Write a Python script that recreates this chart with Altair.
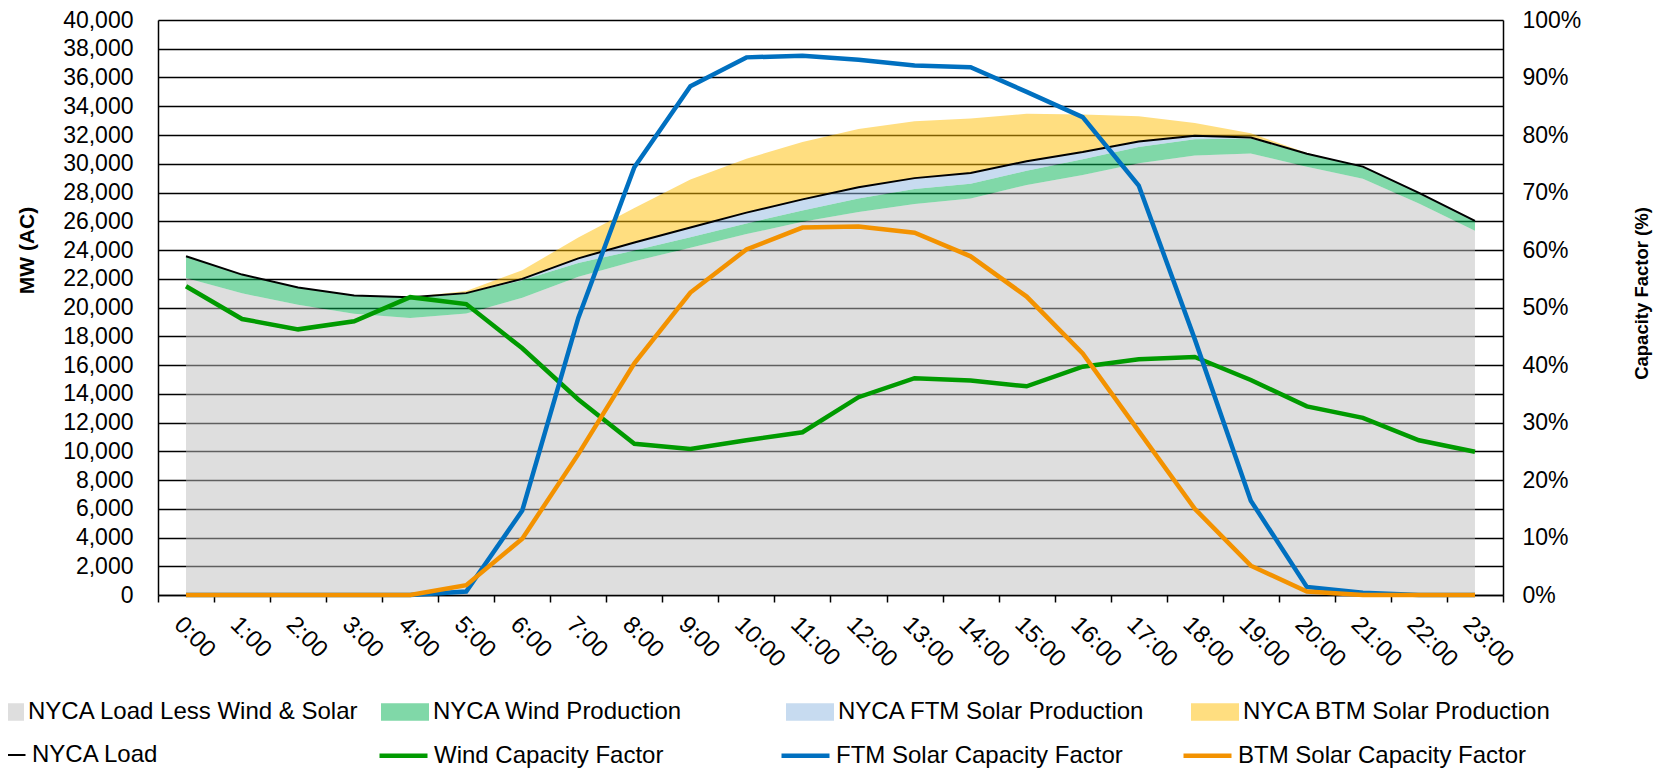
import altair as alt
import pandas as pd

hours = ["0:00", "1:00", "2:00", "3:00", "4:00", "5:00", "6:00", "7:00", "8:00", "9:00",
         "10:00", "11:00", "12:00", "13:00", "14:00", "15:00", "16:00", "17:00", "18:00",
         "19:00", "20:00", "21:00", "22:00", "23:00"]

# MW (AC)
load_less = [22060, 20990, 20190, 19560, 19270, 19590, 20670, 22140, 23220, 24160, 25110, 25960,
             26640, 27200, 27580, 28520, 29210, 30040, 30570, 30720, 29790, 28950, 27240, 25340]
wind_mw = [1500, 1300, 1200, 1280, 1450, 1400, 1220, 950, 750, 720, 740, 780,
           950, 1040, 1030, 1000, 1100, 1130, 1140, 1030, 900, 850, 740, 680]
ftm_mw = [0, 0, 0, 0, 0, 10, 100, 330, 550, 680, 750, 780,
          780, 760, 750, 650, 500, 380, 230, 80, 10, 0, 0, 0]
btm_mw = [0, 0, 0, 0, 0, 150, 600, 1450, 2400, 3350, 3750, 4000,
          4050, 3950, 3780, 3300, 2620, 1750, 900, 300, 40, 0, 0, 0]
nyca_load = [23560, 22290, 21390, 20840, 20720, 21000, 21990, 23420, 24520, 25560, 26600, 27520,
             28370, 29000, 29360, 30170, 30810, 31550, 31940, 31830, 30700, 29800, 27980, 26020]

# Capacity factor (%)
wind_cf = [53.7, 48.0, 46.2, 47.6, 51.8, 50.6, 42.9, 34.0, 26.3, 25.4, 26.9, 28.3,
           34.4, 37.7, 37.3, 36.3, 39.7, 41.0, 41.4, 37.4, 32.8, 30.8, 26.9, 24.9]
ftm_cf = [0, 0, 0, 0, 0, 0.6, 14.7, 48.2, 74.4, 88.5, 93.5, 93.8,
          93.1, 92.1, 91.8, 87.5, 83.1, 71.2, 44.5, 16.4, 1.4, 0.4, 0, 0]
btm_cf = [0, 0, 0, 0, 0, 1.7, 9.8, 24.5, 40.3, 52.6, 60.1, 63.9,
          64.1, 63.0, 58.9, 51.9, 42.0, 28.5, 15.0, 5.1, 0.6, 0, 0, 0]

area_names = ["NYCA Load Less Wind & Solar", "NYCA Wind Production",
              "NYCA FTM Solar Production", "NYCA BTM Solar Production"]
area_colors = ["#bdbdbd", "#02b152", "#8fb7e1", "#ffbd01"]
line_names = ["NYCA Load", "Wind Capacity Factor", "FTM Solar Capacity Factor",
              "BTM Solar Capacity Factor"]
line_colors = ["#000000", "#009a00", "#0070c0", "#f39200"]
line_widths = [2, 4.5, 4.5, 4.5]

mw_ticks = list(range(0, 40001, 2000))
cf_ticks = list(range(0, 101, 10))

area_rows = []
for i, h in enumerate(hours):
    for k, vals in enumerate([load_less, wind_mw, ftm_mw, btm_mw]):
        area_rows.append({"hour": h, "series": area_names[k], "mw": vals[i], "ord": k})
area_df = pd.DataFrame(area_rows)

load_df = pd.DataFrame({"hour": hours, "series": "NYCA Load", "mw": nyca_load})

cf_rows = []
for i, h in enumerate(hours):
    for k, vals in enumerate([wind_cf, ftm_cf, btm_cf]):
        cf_rows.append({"hour": h, "series": line_names[k + 1], "cf": vals[i]})
cf_df = pd.DataFrame(cf_rows)

FONT = "Liberation Sans"

x_enc = alt.X(
    "hour:O", sort=hours, bandPosition=0.5,
    scale=alt.Scale(type="band", domain=hours, paddingInner=0, paddingOuter=0),
    axis=alt.Axis(title=None, labelAngle=45, labelAlign="left", labelBaseline="top",
                  tickBand="extent", ticks=True, tickSize=7, tickColor="black",
                  tickWidth=1.5, labelPadding=10, domainColor="black", domainWidth=1.5,
                  grid=False, labelFontSize=24, labelFont=FONT, labelColor="black"),
)

left_axis = alt.Axis(values=mw_ticks, labelExpr="format(datum.value, ',')",
                     title="MW (AC)", ticks=False,
                     grid=True, gridColor="black", gridWidth=1.5,
                     domainColor="black", domainWidth=1.5, labelPadding=25,
                     labelFontSize=23, labelFont=FONT, labelColor="black",
                     titleFont=FONT, titleFontSize=21, titleFontWeight="bold",
                     titleColor="black", titleAngle=270, titleX=-131, titleY=230,
                     titleBaseline="middle", titleAlign="center")
left_scale = alt.Scale(domain=[0, 40000], nice=False)

stroke_scale = alt.Scale(domain=line_names, range=line_colors)
width_scale = alt.Scale(type="ordinal", domain=line_names, range=line_widths)
stroke_legend = alt.Legend(
    title=None, orient="none", legendX=-183, legendY=709, direction="horizontal",
    columns=4, symbolType="stroke", symbolSize=2304,
    labelFontSize=24, labelFont=FONT, labelColor="black", columnPadding=49,
    gridAlign="all", labelOffset=4, padding=0, labelLimit=0,
)

areas = alt.Chart(area_df).mark_area(opacity=0.5).encode(
    x=x_enc,
    y=alt.Y("mw:Q", stack="zero", scale=left_scale, axis=left_axis),
    fill=alt.Fill("series:N", scale=alt.Scale(domain=area_names, range=area_colors),
                  legend=alt.Legend(
                      title=None, orient="none", legendX=-182, legendY=668,
                      direction="horizontal", columns=4,
                      symbolType="M-1,-0.36H1V0.36H-1Z", symbolSize=2304,
                      symbolStrokeWidth=0, labelFontSize=24, labelFont=FONT,
                      labelColor="black", columnPadding=22, gridAlign="all",
                      labelOffset=4, padding=0, labelLimit=0)),
    order=alt.Order("ord:Q"),
)

load_line = alt.Chart(load_df).mark_line().encode(
    x=x_enc,
    y=alt.Y("mw:Q", scale=left_scale, axis=left_axis),
    stroke=alt.Stroke("series:N", scale=stroke_scale, legend=stroke_legend),
    strokeWidth=alt.StrokeWidth("series:N", scale=width_scale, legend=stroke_legend),
)

left = alt.layer(areas, load_line)

right_axis = alt.Axis(values=cf_ticks, labelExpr="datum.value + '%'",
                      orient="right", title="Capacity Factor (%)",
                      ticks=False, grid=False, domainColor="black",
                      domainWidth=1.5, labelPadding=19, labelAlign="left",
                      labelFontSize=23, labelFont=FONT, labelColor="black",
                      titleFont=FONT, titleFontSize=18.5, titleFontWeight="bold",
                      titleColor="black", titleAngle=270, titleX=138,
                      titleY=273, titleBaseline="middle", titleAlign="center")

cf_layers = []
for name in line_names[1:]:
    cf_layers.append(
        alt.Chart(cf_df).transform_filter(alt.datum.series == name)
        .mark_line()
        .encode(
            x=x_enc,
            y=alt.Y("cf:Q", scale=alt.Scale(domain=[0, 100], nice=False), axis=right_axis),
            stroke=alt.Stroke("series:N", scale=stroke_scale, legend=stroke_legend),
            strokeWidth=alt.StrokeWidth("series:N", scale=width_scale, legend=stroke_legend),
        )
    )
right = alt.layer(*cf_layers)

chart = alt.layer(left, right).resolve_scale(y="independent").properties(
    width=1345, height=575,
    padding={"left": 150, "top": 12, "right": 155, "bottom": 175},
    autosize=alt.AutoSizeParams(type="none"),
    background="white",
).configure_view(stroke=None)

chart.save("out.html", embed_options={"renderer": "svg", "actions": False})
